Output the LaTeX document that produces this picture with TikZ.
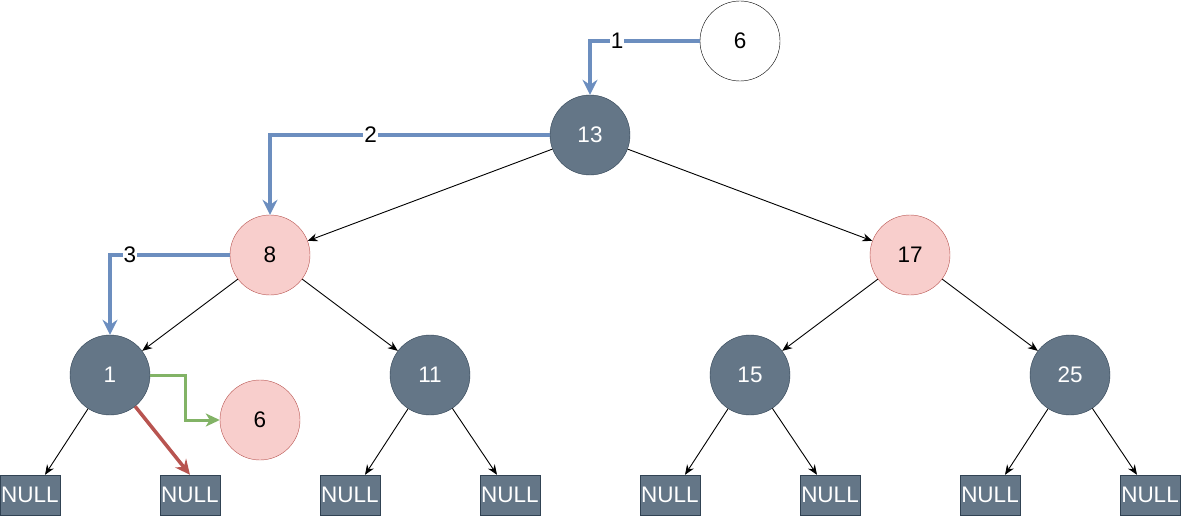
\documentclass[tikz,border=0pt]{standalone}
\usepackage{fontspec}
\setmainfont{Liberation Sans}
\usetikzlibrary{arrows.meta,calc}
\definecolor{darkfill}{HTML}{647687}
\definecolor{darkline}{HTML}{314354}
\definecolor{pinkfill}{HTML}{F8CECC}
\definecolor{pinkline}{HTML}{B85450}
\definecolor{blueline}{HTML}{6C8EBF}
\definecolor{greenline}{HTML}{82B366}
\begin{document}
\begin{tikzpicture}[x=1pt,y=-1pt,
  font=\fontsize{22.5}{26}\selectfont,
  dark/.style={circle,draw=darkline,fill=darkfill,text=white,minimum size=80pt,inner sep=0pt},
  pink/.style={circle,draw=pinkline,fill=pinkfill,text=black,minimum size=80pt,inner sep=0pt},
  plain/.style={circle,draw=black,fill=white,minimum size=80pt,inner sep=0pt},
  nullbox/.style={rectangle,draw=darkline,fill=darkfill,text=white,minimum width=60pt,minimum height=40pt,inner sep=0pt},
  edge/.style={draw=black,line width=0.9pt,-{Stealth[length=10pt,width=8pt]}},
  bluearrow/.style={draw=blueline,line width=4pt,-{Stealth[length=15pt,width=15pt,inset=5pt]}},
  greenarrow/.style={draw=greenline,line width=3pt,-{Stealth[length=14pt,width=13pt,inset=4pt]}},
  redarrow/.style={draw=pinkline,line width=3.5pt,-{Stealth[length=15pt,width=14pt,inset=5pt]}},
  steplabel/.style={fill=white,inner sep=1pt,text=black}]
\useasboundingbox (0,0) rectangle (1182,516);
\node[plain] (new) at (740,41) {6};
\node[dark] (n13) at (590,135) {13};
\node[pink] (n8) at (270,255) {8};
\node[pink] (n17) at (910,255) {17};
\node[dark] (n1) at (110,375) {1};
\node[dark] (n11) at (430,375) {11};
\node[dark] (n15) at (750,375) {15};
\node[dark] (n25) at (1070,375) {25};
\node[pink] (ins) at (260,420) {6};
\node[nullbox] (b1) at (30,495) {NULL};
\node[nullbox] (b2) at (190,495) {NULL};
\node[nullbox] (b3) at (350,495) {NULL};
\node[nullbox] (b4) at (510,495) {NULL};
\node[nullbox] (b5) at (670,495) {NULL};
\node[nullbox] (b6) at (830,495) {NULL};
\node[nullbox] (b7) at (990,495) {NULL};
\node[nullbox] (b8) at (1150,495) {NULL};
% tree edges
\draw[edge] (n13) -- (n8);
\draw[edge] (n13) -- (n17);
\draw[edge] (n8) -- (n1);
\draw[edge] (n8) -- (n11);
\draw[edge] (n17) -- (n15);
\draw[edge] (n17) -- (n25);
\draw[edge] (n1) -- ([xshift=15pt]b1.north);
\draw[edge] (n11) -- ([xshift=15pt]b3.north);
\draw[edge] (n11) -- ([xshift=-13pt]b4.north);
\draw[edge] (n15) -- ([xshift=15pt]b5.north);
\draw[edge] (n15) -- ([xshift=-13pt]b6.north);
\draw[edge] (n25) -- ([xshift=15pt]b7.north);
\draw[edge] (n25) -- ([xshift=-13pt]b8.north);
\draw[redarrow] (n1) -- (b2.north);
% search path
\draw[bluearrow] (new.west) -| node[pos=0.377,steplabel] {1} (n13.north);
\draw[bluearrow] (n13.west) -| node[pos=0.32,steplabel] {2} (n8.north);
\draw[bluearrow] (n8.west) -| node[pos=0.417,steplabel] {3} (n1.north);
\coordinate (g1) at (185,375);
\draw[greenarrow] (n1.east) -- (g1) |- (ins.west);
\end{tikzpicture}
\end{document}
